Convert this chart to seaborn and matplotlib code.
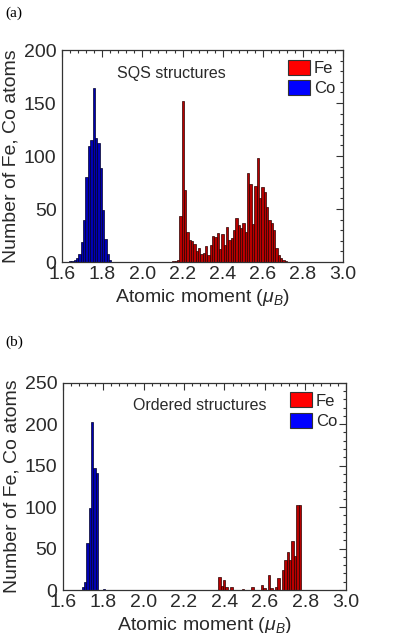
import numpy as np
import pandas as pd
import matplotlib
matplotlib.use("Agg")
import matplotlib.pyplot as plt
import seaborn as sns
from matplotlib.ticker import MultipleLocator, FormatStrFormatter
from matplotlib.patches import Patch

# ---------------- data (histogram bin centres and counts) ----------------
species = ["Fe", "Co"]

co_sqs_moment = [1.641, 1.653, 1.664, 1.676, 1.688, 1.699, 1.711, 1.723, 1.734,
                 1.746, 1.758, 1.769, 1.781, 1.793, 1.804, 1.816, 1.828, 1.839]
co_sqs_count = [1, 1, 2, 4, 8, 19, 40, 80, 109, 115, 164, 117, 112, 89, 49, 22, 8, 2]

fe_sqs_moment = [2.154, 2.166, 2.178, 2.189, 2.201, 2.213, 2.224, 2.236, 2.248,
                 2.259, 2.271, 2.283, 2.294, 2.306, 2.318, 2.329, 2.341, 2.353,
                 2.364, 2.376, 2.388, 2.399, 2.411, 2.423, 2.434, 2.446, 2.458,
                 2.469, 2.481, 2.493, 2.504, 2.516, 2.528, 2.539, 2.551, 2.563,
                 2.574, 2.586, 2.598, 2.609, 2.621, 2.633, 2.644, 2.656, 2.668,
                 2.679, 2.691, 2.703, 2.714]
fe_sqs_count = [1, 1, 2, 43, 152, 68, 28, 21, 20, 17, 10, 13, 8, 9, 15, 7, 16,
                25, 24, 27, 12, 26, 16, 33, 21, 23, 30, 42, 35, 32, 37, 28, 84,
                74, 36, 72, 98, 60, 71, 66, 52, 40, 37, 30, 13, 7, 4, 2, 1]

co_ord_moment = [1.699, 1.711, 1.723, 1.734, 1.746, 1.758, 1.769, 1.804]
co_ord_count = [4, 10, 57, 99, 203, 147, 141, 1]

fe_ord_moment = [2.376, 2.388, 2.399, 2.411, 2.434, 2.493, 2.539, 2.586, 2.598,
                 2.621, 2.633, 2.656, 2.668, 2.691, 2.703, 2.714, 2.726, 2.738,
                 2.749, 2.761, 2.773]
fe_ord_count = [16, 5, 12, 4, 4, 1, 4, 6, 2, 18, 2, 4, 15, 24, 36, 46, 36, 59,
                41, 103, 102]

panels = [
    dict(co_x=co_sqs_moment, co_w=co_sqs_count, fe_x=fe_sqs_moment, fe_w=fe_sqs_count,
         title="SQS structures", title_x=0.39, ymax=200),
    dict(co_x=co_ord_moment, co_w=co_ord_count, fe_x=fe_ord_moment, fe_w=fe_ord_count,
         title="Ordered structures", title_x=0.485, ymax=250),
]

# ---------------- style ----------------
sns.set_theme(style="white")
plt.rcParams["font.family"] = ["Liberation Sans", "DejaVu Sans"]
plt.rcParams["mathtext.fontset"] = "custom"
plt.rcParams["mathtext.rm"] = "Liberation Sans"
plt.rcParams["mathtext.it"] = "Liberation Sans:italic"

TXT = "#2a2a2a"
FE_FILL, FE_EDGE = "#b80000", "#2a0000"
CO_FILL, CO_EDGE = "#0000b4", "#000028"

fig = plt.figure(figsize=(4.11, 6.33), dpi=100)
ax_a = fig.add_axes([0.151, 0.586, 0.684, 0.335])
ax_b = fig.add_axes([0.1526, 0.0679, 0.6885, 0.3275])

edges = np.linspace(1.6, 3.0, 121).tolist()

for ax, p in zip([ax_a, ax_b], panels):
    co_df = pd.DataFrame({"moment": p["co_x"], "count": p["co_w"]})
    fe_df = pd.DataFrame({"moment": p["fe_x"], "count": p["fe_w"]})
    sns.histplot(data=co_df, x="moment", weights="count", bins=edges, ax=ax,
                 color=CO_FILL, edgecolor=CO_EDGE, linewidth=0.5, alpha=1)
    sns.histplot(data=fe_df, x="moment", weights="count", bins=edges, ax=ax,
                 color=FE_FILL, edgecolor=FE_EDGE, linewidth=0.5, alpha=1)
    ax.set_xlim(1.6, 3.0)
    ax.set_ylim(0, p["ymax"])
    ax.xaxis.set_major_locator(MultipleLocator(0.2))
    ax.xaxis.set_minor_locator(MultipleLocator(0.04))
    ax.yaxis.set_major_locator(MultipleLocator(50))
    ax.yaxis.set_minor_locator(MultipleLocator(10))
    ax.xaxis.set_major_formatter(FormatStrFormatter("%.1f"))
    ax.tick_params(which="both", direction="in", top=True, right=True,
                   colors="#333333", labelcolor=TXT, width=0.8)
    ax.tick_params(which="major", length=5, labelsize=14)
    ax.tick_params(which="minor", length=2.5)
    ax.tick_params(axis="x", pad=3)
    ax.tick_params(axis="y", pad=4)
    for s in ax.spines.values():
        s.set_color("#333333")
        s.set_linewidth(0.9)
    ax.set_ylabel("Number of Fe, Co atoms", fontsize=14, color=TXT, labelpad=3)
    ax.set_xlabel(r"Atomic moment ($\mu_B$)", fontsize=14, color=TXT, labelpad=3)
    ax.text(p["title_x"], 0.89, p["title"], transform=ax.transAxes,
            ha="center", va="center", fontsize=11.5, color=TXT)
    handles = [Patch(facecolor="#ff0000", edgecolor="#333333", linewidth=0.8),
               Patch(facecolor="#0000ff", edgecolor="#333333", linewidth=0.8)]
    ax.legend(handles, species, loc="upper left", bbox_to_anchor=(0.804, 0.953),
              frameon=False, fontsize=12, handlelength=1.3, handleheight=1.0,
              handletextpad=0.25, labelspacing=0.25, borderpad=0, borderaxespad=0)

fig.text(0.012, 1 - 13 / 633, "(a)", va="center", ha="left", fontsize=11,
         family="Liberation Serif", color="black")
fig.text(0.012, 1 - 342 / 633, "(b)", va="center", ha="left", fontsize=11,
         family="Liberation Serif", color="black")

fig.savefig("out.png", dpi=100)
